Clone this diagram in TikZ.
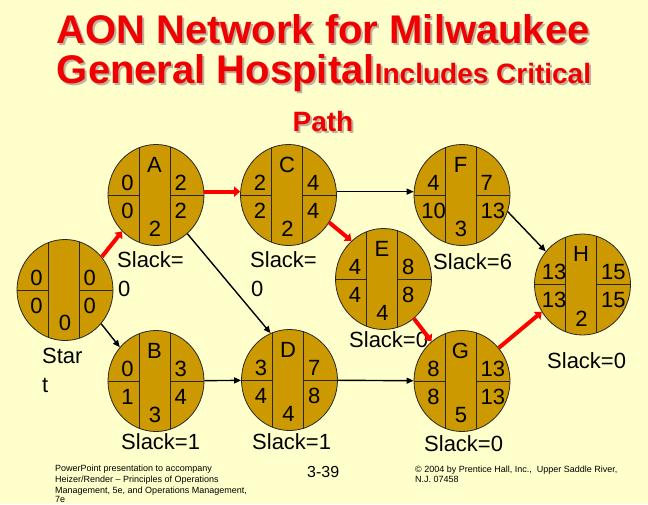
\documentclass[tikz,border=0pt]{standalone}
\usepackage{fontspec}
\setmainfont{Liberation Sans}
\usetikzlibrary{shapes.geometric,arrows.meta}
\definecolor{bg}{RGB}{255,255,204}
\definecolor{gold}{RGB}{204,153,0}
\definecolor{tshadow}{RGB}{190,178,160}
\definecolor{titlered}{RGB}{240,0,0}
\tikzset{
  act/.style={ellipse, draw=black!85, line width=0.8pt, fill=gold,
    minimum width=96pt, minimum height=101pt, inner sep=0pt,
    path picture={
      \draw[line width=0.8pt, black!85]
        ([xshift=-17pt]path picture bounding box.north) -- ([xshift=-17pt]path picture bounding box.south)
        ([xshift=14pt]path picture bounding box.north) -- ([xshift=14pt]path picture bounding box.south)
        (path picture bounding box.west) -- ([xshift=-17pt]path picture bounding box.center)
        ([xshift=14pt]path picture bounding box.center) -- (path picture bounding box.east);
    }},
  lbl/.style={inner sep=0pt, font=\fontsize{22}{26}\selectfont},
  slack/.style={inner sep=0pt, anchor=base west, font=\fontsize{22}{26}\selectfont},
  crit/.style={draw=red, line width=4pt, -{Triangle[length=6pt,width=10pt]}},
  norm/.style={draw=black, line width=1.4pt, -{Triangle[length=7pt,width=6pt]}},
  ttl/.style={inner sep=0pt, anchor=base, font=\bfseries\fontsize{40}{48}\selectfont},
  foot/.style={inner sep=0pt, anchor=base west, font=\fontsize{9}{11.3}\selectfont},
}
\newcommand\actnode[9]{%
  \node[act] (#1) at (#2,#3) {};
  \node[lbl] (#1-n) at ([shift={(-1.5,30.5)}]#1.center) {#4};
  \node[lbl] (#1-es) at ([shift={(-28.5,12.5)}]#1.center) {#5};
  \node[lbl] (#1-ls) at ([shift={(-28.5,-15.5)}]#1.center) {#7};
  \node[lbl,anchor=west] (#1-ef) at ([shift={(18.5,12.5)}]#1.center) {#6};
  \node[lbl,anchor=west] (#1-lf) at ([shift={(18.5,-15.5)}]#1.center) {#8};
  \node[lbl] (#1-d) at ([shift={(-1,-34)}]#1.center) {#9};
}
\begin{document}
\begin{tikzpicture}[x=1pt,y=1pt]
\useasboundingbox (0,0) rectangle (648,-504);
\fill[bg] (0,0) rectangle (648,-504);
% title
\node[ttl, text=tshadow] (t1s) at (325,-45) {AON Network for Milwaukee};
\node[ttl, text=titlered] (t1) at (323,-43) {AON Network for Milwaukee};
\node[ttl, text=tshadow] (t2s) at (326,-85) {General Hospital{\fontsize{28}{34}\selectfont Includes Critical}};
\node[ttl, text=titlered] (t2) at (324,-83) {General Hospital{\fontsize{28}{34}\selectfont Includes Critical}};
\node[ttl, text=tshadow, font=\bfseries\fontsize{28}{34}\selectfont] (t3s) at (325,-133) {Path};
\node[ttl, text=titlered, font=\bfseries\fontsize{28}{34}\selectfont] (t3) at (323,-131) {Path};
% slack labels
\node[slack] (slS1) at (42,-363) {Star};
\node[slack] (slS2) at (42,-392) {t};
\node[slack] (slA1) at (117,-267) {Slack=};
\node[slack] (slA2) at (118,-296) {0};
\node[slack] (slC1) at (250,-267) {Slack=};
\node[slack] (slC2) at (251,-296) {0};
\node[slack] (slB) at (121,-449) {Slack=1};
\node[slack] (slD) at (252,-449) {Slack=1};
\node[slack] (slE) at (349,-347) {Slack=0};
\node[slack] (slF) at (433,-269) {Slack=6};
\node[slack] (slG) at (424,-451) {Slack=0};
\node[slack] (slH) at (547,-368) {Slack=0};
% activities
\node[act] (nS) at (65,-290) {};
\node[lbl] (nS-es) at ([shift={(-28.5,12.5)}]nS.center) {0};
\node[lbl] (nS-ls) at ([shift={(-28.5,-15.5)}]nS.center) {0};
\node[lbl,anchor=west] (nS-ef) at ([shift={(18.5,12.5)}]nS.center) {0};
\node[lbl,anchor=west] (nS-lf) at ([shift={(18.5,-15.5)}]nS.center) {0};
\node[lbl] (nS-d) at ([shift={(0,-33)}]nS.center) {0};
\actnode{nA}{156}{-195}{A}{0}{2}{0}{2}{2}
\actnode{nB}{156}{-381}{B}{0}{3}{1}{4}{3}
\actnode{nC}{288.5}{-195}{C}{2}{4}{2}{4}{2}
\actnode{nD}{289.5}{-380}{D}{3}{7}{4}{8}{4}
\actnode{nE}{383.5}{-279}{E}{4}{8}{4}{8}{4}
\actnode{nF}{462}{-195}{F}{4}{7}{10}{13}{3}
\actnode{nG}{462}{-381}{G}{8}{13}{8}{13}{5}
\actnode{nH}{582.5}{-284.5}{H}{13}{15}{13}{15}{2}
% connectors
\draw[crit] (nS.42) -- (nA.227);
\draw[norm] (nS.-43) -- (nB.137);
\draw[crit] (nA.4) -- (nC.176);
\draw[norm] (nA.-51) -- (nD.112);
\draw[norm] (nB) -- (nD);
\draw[norm] (nC.4) -- (nF.176);
\draw[crit] (nC.-34) -- (nE.130);
\draw[norm] (nD) -- (nG);
\draw[crit] (nE) -- (nG);
\draw[norm] (nF.-20) -- (nH.138);
\draw[crit] (nG.42) -- (nH.214);
% footer
\node[foot] (f1) at (55,-471.5) {PowerPoint presentation to accompany};
\node[foot] (f2) at (55,-482.5) {Heizer/Render -- Principles of Operations};
\node[foot] (f3) at (55,-493.5) {Management, 5e, and Operations Management,};
\node[foot] (f4) at (55,-502.5) {7e};
\node[inner sep=0pt, anchor=base west, font=\fontsize{16}{19}\selectfont] (pg) at (307,-477) {3-39};
\node[foot] (r1) at (415,-472) {© 2004 by Prentice Hall, Inc.,\ \ Upper Saddle River,};
\node[foot] (r2) at (415,-482) {N.J. 07458};
\end{tikzpicture}
\end{document}
